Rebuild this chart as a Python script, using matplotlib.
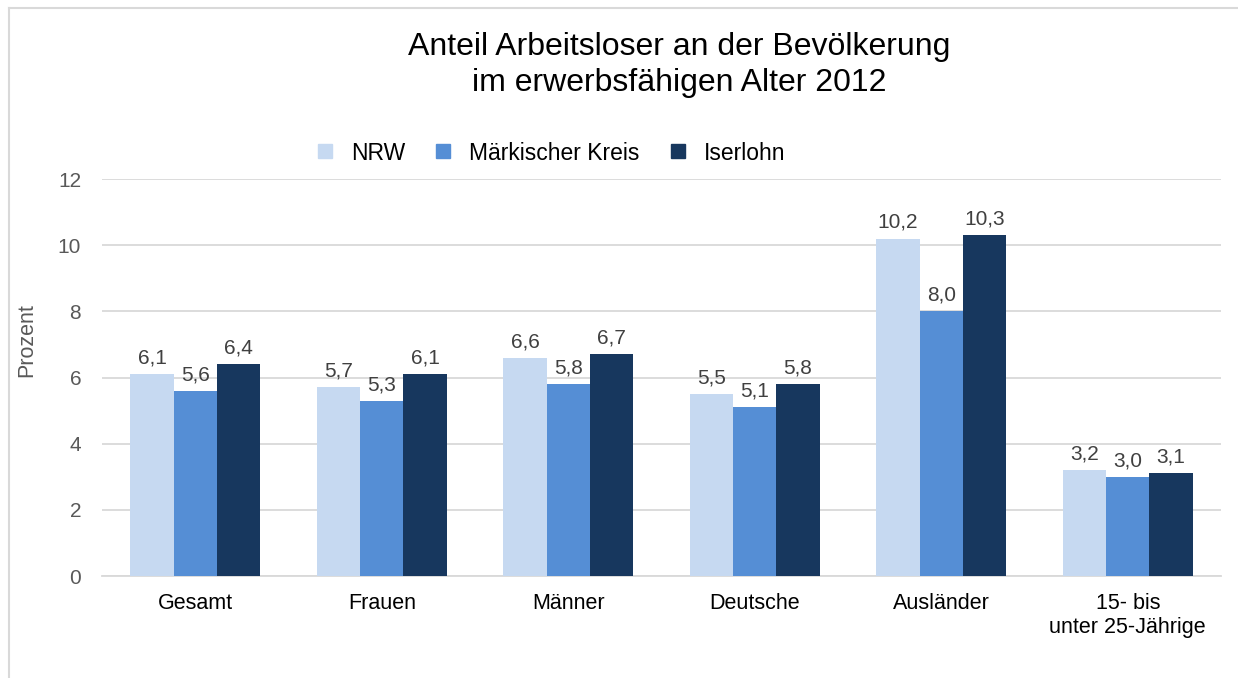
import numpy as np
import matplotlib.pyplot as plt
from matplotlib.lines import Line2D

plt.rcParams['font.family'] = ['Liberation Sans', 'DejaVu Sans']

categories = ["Gesamt", "Frauen", "Männer", "Deutsche", "Ausländer", "15- bis\nunter 25-Jährige"]
series_names = ["NRW", "Märkischer Kreis", "Iserlohn"]
nrw = [6.1, 5.7, 6.6, 5.5, 10.2, 3.2]
mk = [5.6, 5.3, 5.8, 5.1, 8.0, 3.0]
iserlohn = [6.4, 6.1, 6.7, 5.8, 10.3, 3.1]
colors = ["#C6D9F1", "#558ED5", "#17375E"]

fig = plt.figure(figsize=(12.38, 6.78), dpi=100)
ax = fig.add_axes([102 / 1238, 1 - 576 / 678, (1221 - 102) / 1238, (576 - 179) / 678])

x = np.arange(len(categories))
w = 0.232
for i, (vals, c) in enumerate(zip([nrw, mk, iserlohn], colors)):
    pos = x + (i - 1) * w
    ax.bar(pos, vals, width=w, color=c, zorder=3)
    for p, v in zip(pos, vals):
        ax.text(p, v + 0.2, f"{v:.1f}".replace(".", ","), ha="center", va="bottom",
                fontsize=15, color="#404040")

ax.set_xlim(-0.5, len(categories) - 0.5)
ax.set_ylim(0, 12)
ax.set_yticks(range(0, 13, 2))
ax.yaxis.grid(True, color="#D9D9D9", linewidth=1.3, zorder=0)
for s in ["top", "right", "left"]:
    ax.spines[s].set_visible(False)
ax.spines["bottom"].set_color("#D9D9D9")
ax.spines["bottom"].set_linewidth(1.3)
ax.tick_params(axis="y", length=0, labelsize=15, labelcolor="#595959", pad=15)
ax.tick_params(axis="x", length=0, labelsize=15.5, labelcolor="#000000", pad=12)
ax.set_xticks(x)
ax.set_xticklabels(categories)
ax.set_ylabel("Prozent", fontsize=15.5, color="#595959")
ax.yaxis.set_label_coords((37 - 102) / 1119, (576 - 340) / 397)

fig.text(679 / 1238, 1 - 65 / 678, "Anteil Arbeitsloser an der Bevölkerung\nim erwerbsfähigen Alter 2012",
         ha="center", va="center", fontsize=23, color="#000000", linespacing=1.22)

handles = [Line2D([], [], marker="s", linestyle="none", markersize=10, color=c) for c in colors]
fig.legend(handles, series_names, loc="center", bbox_to_anchor=(551 / 1238, 1 - 153 / 678),
           ncol=3, frameon=False, fontsize=16.5, handlelength=0.7, handletextpad=0.8,
           columnspacing=1.3)

# outer chart frame (partially visible)
fig.add_artist(Line2D([9 / 1238, 9 / 1238], [0, 1 - 8 / 678], color="#D9D9D9", linewidth=1.5))
fig.add_artist(Line2D([9 / 1238, 1], [1 - 8 / 678, 1 - 8 / 678], color="#D9D9D9", linewidth=1.5))

fig.savefig("out.png", dpi=100)
